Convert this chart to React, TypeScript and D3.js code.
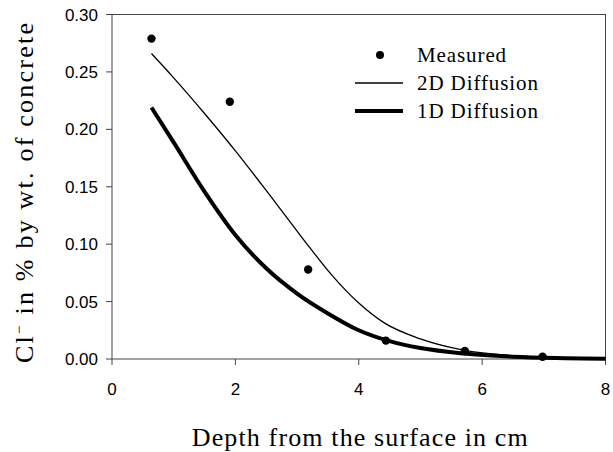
import React from "react";
import * as d3 from "d3";

const measuredX = [0.64, 1.91, 3.18, 4.44, 5.72, 6.98];
const measuredY = [0.279, 0.224, 0.078, 0.016, 0.007, 0.002];

const diff2DX = [0.64, 1.0, 1.5, 2.0, 2.5, 2.85, 3.2, 3.55, 4.0, 4.4, 5.0, 5.7, 6.5, 7.2, 8.0];
const diff2DY = [0.266, 0.2448, 0.2138, 0.1813, 0.1468, 0.1221, 0.0974, 0.0739, 0.0487, 0.0319, 0.0175, 0.0077, 0.0029, 0.0011, 0.0003];

const diff1DX = [0.64, 1.0, 1.5, 2.0, 2.5, 3.0, 3.5, 4.0, 4.5, 5.0, 5.7, 6.5, 7.2, 8.0];
const diff1DY = [0.219, 0.1886, 0.1458, 0.108, 0.079, 0.057, 0.0397, 0.025, 0.0155, 0.0095, 0.0048, 0.002, 0.0008, 0.0002];

const xTicks = [0, 2, 4, 6, 8];
const yTicks = [0, 0.05, 0.1, 0.15, 0.2, 0.25, 0.3];

const legendLabels = ["Measured", "2D Diffusion", "1D Diffusion"];

export default function App() {
  const W = 613, H = 452;
  const left = 112, right = 605.5, top = 14.5, bottom = 359;
  const x = d3.scaleLinear().domain([0, 8]).range([left, right]);
  const y = d3.scaleLinear().domain([0, 0.3]).range([bottom, top]);
  const line = d3
    .line<[number, number]>()
    .x((d) => x(d[0]))
    .y((d) => y(d[1]))
    .curve(d3.curveMonotoneX);
  const p2 = line(diff2DX.map((v, i) => [v, diff2DY[i]] as [number, number])) || "";
  const p1 = line(diff1DX.map((v, i) => [v, diff1DY[i]] as [number, number])) || "";
  const serif = "'Liberation Serif', 'Times New Roman', serif";
  const sans = "'Liberation Sans', Arial, sans-serif";
  return (
    <svg
      width={W}
      height={H}
      style={{ position: "absolute", left: 0, top: 0, background: "#fff" }}
    >
      <rect x={0} y={0} width={W} height={H} fill="#fff" />
      {/* frame */}
      <rect
        x={left}
        y={top}
        width={right - left}
        height={bottom - top}
        fill="none"
        stroke="#444"
        strokeWidth={1}
      />
      {/* y ticks */}
      {yTicks.map((t) => (
        <g key={"y" + t}>
          <line x1={left - 6} x2={left} y1={y(t)} y2={y(t)} stroke="#444" />
          <text
            x={98}
            y={y(t) + 6}
            textAnchor="end"
            fontFamily={sans}
            fontSize={17}
            fill="#000"
          >
            {t.toFixed(2)}
          </text>
        </g>
      ))}
      {/* x ticks */}
      {xTicks.map((t) => (
        <g key={"x" + t}>
          <line x1={x(t)} x2={x(t)} y1={bottom} y2={bottom + 6} stroke="#444" />
          <text
            x={x(t)}
            y={395}
            textAnchor="middle"
            fontFamily={sans}
            fontSize={17}
            fill="#000"
          >
            {t}
          </text>
        </g>
      ))}
      {/* curves */}
      <path d={p2} fill="none" stroke="#000" strokeWidth={1.3} />
      <path d={p1} fill="none" stroke="#000" strokeWidth={4} strokeLinejoin="round" />
      {measuredX.map((v, i) => (
        <circle key={"m" + i} cx={x(v)} cy={y(measuredY[i])} r={4.2} fill="#000" />
      ))}
      {/* legend */}
      <circle cx={380} cy={55} r={4} fill="#000" />
      <line x1={355} x2={403} y1={83} y2={83} stroke="#000" strokeWidth={1.3} />
      <line x1={355} x2={403} y1={111} y2={111} stroke="#000" strokeWidth={4} />
      {legendLabels.map((l, i) => (
        <text
          key={l}
          x={417}
          y={62 + i * 28}
          fontFamily={serif}
          fontSize={21}
          letterSpacing={0.9}
          fill="#000"
        >
          {l}
        </text>
      ))}
      {/* axis titles */}
      <text
        x={(left + right) / 2 + 1}
        y={446}
        textAnchor="middle"
        fontFamily={serif}
        fontSize={26}
        fill="#000"
        textLength={336}
        lengthAdjust="spacing"
      >
        Depth from the surface in cm
      </text>
      <text
        transform={`translate(33, 193) rotate(-90)`}
        textAnchor="middle"
        fontFamily={serif}
        fontSize={26}
        fill="#000"
        textLength={340}
        lengthAdjust="spacing"
      >
        Cl<tspan dy={-9} fontSize={15}>−</tspan>
        <tspan dy={9}> in % by wt. of concrete</tspan>
      </text>
    </svg>
  );
}
